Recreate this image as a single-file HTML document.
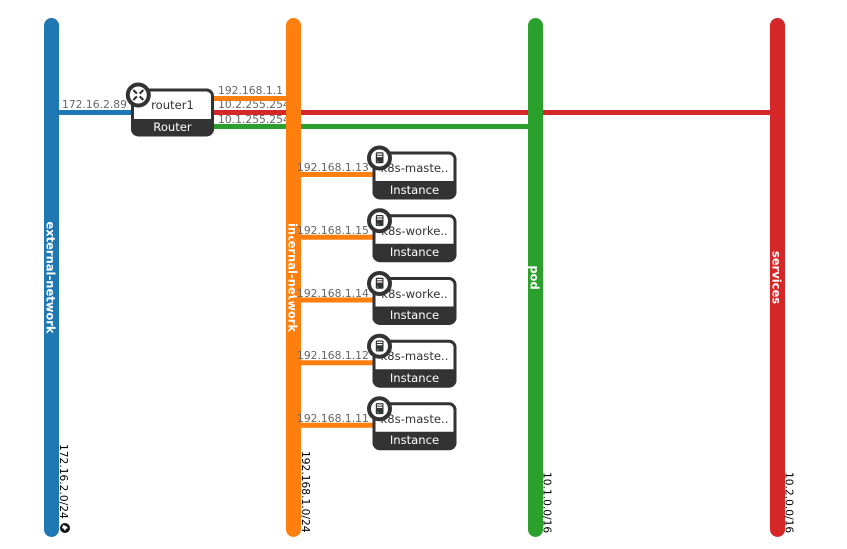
<!DOCTYPE html>
<html><head><meta charset="utf-8"><style>
html,body{margin:0;padding:0;background:#fff;width:847px;height:549px;overflow:hidden}
svg{display:block;font-family:"DejaVu Sans",sans-serif}
.ip{font-size:10.75px;fill:#666}
.nm{font-size:11.6px;fill:#333;text-anchor:middle}
.ty{font-size:11.6px;fill:#fff;text-anchor:middle}
.net{font-size:11.5px;font-weight:bold;fill:#fff;text-anchor:middle}
.cidr{font-size:10.67px;fill:#000}
</style></head><body>
<svg width="847" height="549" viewBox="0 0 847 549" xmlns="http://www.w3.org/2000/svg">
<defs>
<g id="box">
<path d="M-79 22.500H2" stroke="#ff7f0e" stroke-width="5" fill="none"/>
<rect x="1.500" y="1" width="81" height="45" rx="6" fill="#fff" stroke="#333" stroke-width="3"/>
<path d="M0 29H84V40a7 7 0 0 1-7 7H7a7 7 0 0 1-7-7Z" fill="#333"/>
</g>
<g id="ico">
<circle cx="6" cy="6" r="10.500" fill="#fff" stroke="#333" stroke-width="4"/>
<rect x="2.300" y="0.300" width="7.700" height="11" rx="1" fill="#333"/>
<rect x="3.500" y="1.500" width="5.300" height="1.300" fill="#fff"/>
<rect x="3.500" y="3.800" width="5.300" height="1.300" fill="#fff"/>
<circle cx="4.300" cy="9.500" r="0.800" fill="#3c3"/>
</g>
</defs>

<text class="ip" x="218" y="94">192.168.1.1</text>
<text class="ip" x="218" y="108">10.2.255.254</text>
<text class="ip" x="218" y="123">10.1.255.254</text>

<rect x="44" y="18" width="15" height="519" rx="7.500" fill="#1f77b4"/>
<rect x="286" y="18" width="15" height="519" rx="7.500" fill="#ff7f0e"/>
<rect x="528" y="18" width="15" height="519" rx="7.500" fill="#2ca02c"/>
<rect x="770" y="18" width="15" height="519" rx="7.500" fill="#d62728"/>

<rect x="59" y="110" width="74" height="5" fill="#1f77b4"/>
<rect x="212" y="96" width="74" height="5" fill="#ff7f0e"/>
<rect x="212" y="110" width="74" height="5" fill="#d62728"/>
<rect x="301" y="110" width="227" height="5" fill="#d62728"/>
<rect x="543" y="110" width="227" height="5" fill="#d62728"/>
<rect x="212" y="124" width="74" height="5" fill="#2ca02c"/>
<rect x="301" y="124" width="227" height="5" fill="#2ca02c"/>

<text class="net" transform="translate(46.500,277.500) rotate(90)">external-network</text>
<text class="net" transform="translate(288.500,277.500) rotate(90)">internal-network</text>
<text class="net" transform="translate(530.500,277.500) rotate(90)">pod</text>
<text class="net" transform="translate(772.500,277.500) rotate(90)">services</text>

<text class="cidr" transform="translate(60,444) rotate(90)">172.16.2.0/24</text>
<text class="cidr" transform="translate(302,451) rotate(90)">192.168.1.0/24</text>
<text class="cidr" transform="translate(543.500,472) rotate(90)">10.1.0.0/16</text>
<text class="cidr" transform="translate(785.500,472) rotate(90)">10.2.0.0/16</text>
<circle cx="65" cy="528" r="5" fill="#111"/>
<path d="M63 525l3 1 2 2-2 1-1 2-1-2-2-1z" fill="#fff"/>

<text class="ip" x="62" y="108">172.16.2.89</text>

<rect x="132.500" y="90" width="80" height="45" rx="6" fill="#fff" stroke="#333" stroke-width="3"/>
<path d="M131 119H214V129a7 7 0 0 1-7 7H138a7 7 0 0 1-7-7Z" fill="#333"/>
<text class="nm" x="172.500" y="109">router1</text>
<text class="ty" x="172.500" y="131">Router</text>
<circle cx="138.300" cy="95" r="10.500" fill="#fff" stroke="#333" stroke-width="4"/>
<path d="M133.300 90l3.600 3.600M143.300 90l-3.600 3.600M133.300 100l3.600-3.600M143.300 100l-3.600-3.600" stroke="#333" stroke-width="2.200"/>

<text class="ip" x="297" y="171">192.168.1.13</text>
<text class="ip" x="297" y="234">192.168.1.15</text>
<text class="ip" x="297" y="297">192.168.1.14</text>
<text class="ip" x="297" y="359">192.168.1.12</text>
<text class="ip" x="297" y="422">192.168.1.11</text>

<use href="#box" x="372.500" y="152"/>
<use href="#box" x="372.500" y="214.700"/>
<use href="#box" x="372.500" y="277.500"/>
<use href="#box" x="372.500" y="340.200"/>
<use href="#box" x="372.500" y="402.800"/>

<text class="nm" x="414.500" y="172">k8s-maste..</text>
<text class="ty" x="414.500" y="194">Instance</text>
<text class="nm" x="414.500" y="235">k8s-worke..</text>
<text class="ty" x="414.500" y="256">Instance</text>
<text class="nm" x="414.500" y="298">k8s-worke..</text>
<text class="ty" x="414.500" y="319">Instance</text>
<text class="nm" x="414.500" y="360">k8s-maste..</text>
<text class="ty" x="414.500" y="382">Instance</text>
<text class="nm" x="414.500" y="423">k8s-maste..</text>
<text class="ty" x="414.500" y="444">Instance</text>

<use href="#ico" x="373.500" y="152"/>
<use href="#ico" x="373.500" y="214.700"/>
<use href="#ico" x="373.500" y="277.500"/>
<use href="#ico" x="373.500" y="340.200"/>
<use href="#ico" x="373.500" y="402.800"/>
</svg>
</body></html>
